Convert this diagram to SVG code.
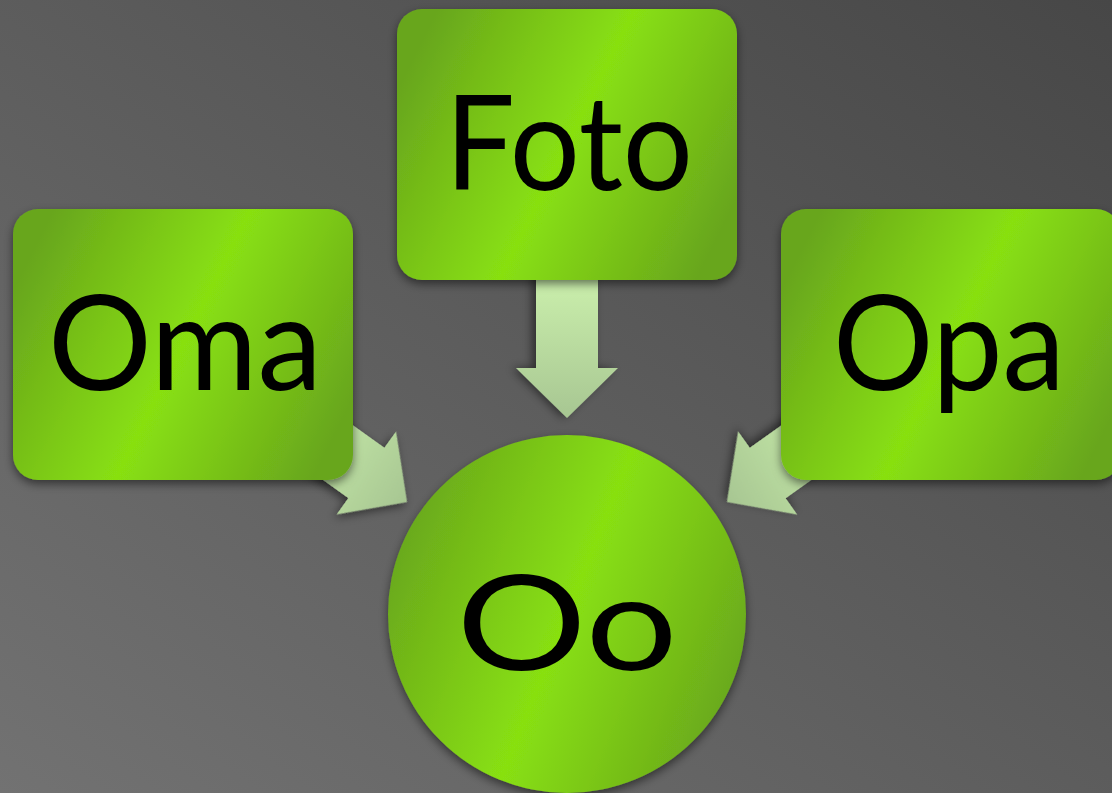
<svg xmlns="http://www.w3.org/2000/svg" width="1112" height="793" viewBox="0 0 1112 793">
<defs>
<linearGradient id="bg" x1="0" y1="1" x2="1" y2="0">
<stop offset="0" stop-color="#727272"/>
<stop offset="1" stop-color="#474747"/>
</linearGradient>
<linearGradient id="green" x1="0" y1="0.3" x2="1" y2="0.7">
<stop offset="0" stop-color="#68a61c"/>
<stop offset="0.3" stop-color="#7cc916"/>
<stop offset="0.5" stop-color="#88e011"/>
<stop offset="0.7" stop-color="#7cc916"/>
<stop offset="1" stop-color="#68a61c"/>
</linearGradient>
<linearGradient id="arrowfill" gradientUnits="userSpaceOnUse" x1="-130" y1="0" x2="0" y2="0">
<stop offset="0" stop-color="#c8ecaa"/>
<stop offset="1" stop-color="#a7c692"/>
</linearGradient>
<filter id="shadow" x="-20%" y="-20%" width="140%" height="140%">
<feDropShadow dx="0" dy="4" stdDeviation="5" flood-color="#000" flood-opacity="0.5"/>
</filter>
<path id="arrow" d="M0,0 L-50,-51 L-50,-31 L-160,-31 L-160,31 L-50,31 L-50,51 Z"/>
</defs>
<style>
.node{fill:url(#green);filter:url(#shadow)}
.lbl{font-family:Lato,"Noto Sans","DejaVu Sans",sans-serif;font-size:132px;fill:#000;text-anchor:middle}
.arr{fill:url(#arrowfill);filter:url(#shadow)}
</style>
<rect width="1112" height="793" fill="url(#bg)"/>
<g id="connectors">
<use href="#arrow" class="arr" transform="translate(567,418) rotate(90)"/>
<use href="#arrow" class="arr" transform="translate(407,502) rotate(35.6)"/>
<use href="#arrow" class="arr" transform="translate(727,502) rotate(144.6)"/>
</g>
<g id="foto">
<rect class="node" x="397" y="9" width="340" height="271" rx="25"/>
<text class="lbl" x="569" y="190" textLength="248" lengthAdjust="spacingAndGlyphs">Foto</text>
</g>
<g id="oma">
<rect class="node" x="13" y="209" width="340" height="271" rx="25"/>
<text class="lbl" x="185" y="390" textLength="274" lengthAdjust="spacingAndGlyphs">Oma</text>
</g>
<g id="opa">
<rect class="node" x="781" y="209" width="340" height="271" rx="25"/>
<text class="lbl" x="949" y="390" textLength="232" lengthAdjust="spacingAndGlyphs">Opa</text>
</g>
<g id="oo">
<circle class="node" cx="567" cy="614" r="179"/>
<text class="lbl" x="567" y="670" textLength="221" lengthAdjust="spacingAndGlyphs">Oo</text>
</g>
</svg>
